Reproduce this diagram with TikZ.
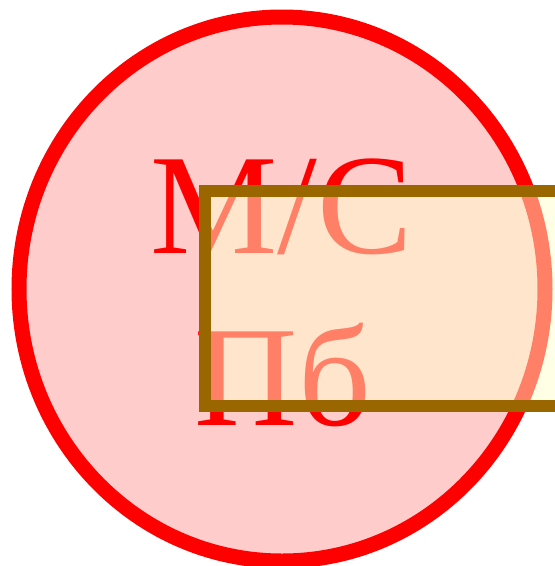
\documentclass[tikz,border=0pt]{standalone}
\usepackage{fontspec}
\setmainfont{Liberation Serif}
\usepackage{tikz}
\usetikzlibrary{shapes.geometric, positioning}
\definecolor{ringred}{HTML}{FF0000}
\definecolor{ringfill}{HTML}{FFCCCC}
\definecolor{boxbrown}{HTML}{996600}
\definecolor{boxfill}{HTML}{FFFFCC}

\begin{document}
\begin{tikzpicture}[
        x=1pt, y=-1pt,
        station/.style={ellipse, draw=ringred, fill=ringfill, line width=15pt, minimum width=526pt, minimum height=544pt, inner sep=0pt},
        stationlabel/.style={anchor=base, text=ringred, inner sep=0pt, font=\fontsize{143}{172}\selectfont},
        panel/.style={rectangle, draw=boxbrown, fill=boxfill, fill opacity=0.5, draw opacity=1, line width=12pt, minimum width=420pt, minimum height=214.5pt, inner sep=0pt, anchor=north west}
    ]
    \useasboundingbox (0,0) rectangle (555,566);
    \clip (0,0) rectangle (555,566);

    \node[station] (ms) at (282,289) {};
    \node[stationlabel] (top) at (282,253) {М/С};
    \node[stationlabel] (bottom) at (283,425) {Пб};
    \node[panel] (box) at (199,185) {};
\end{tikzpicture}
\end{document}
